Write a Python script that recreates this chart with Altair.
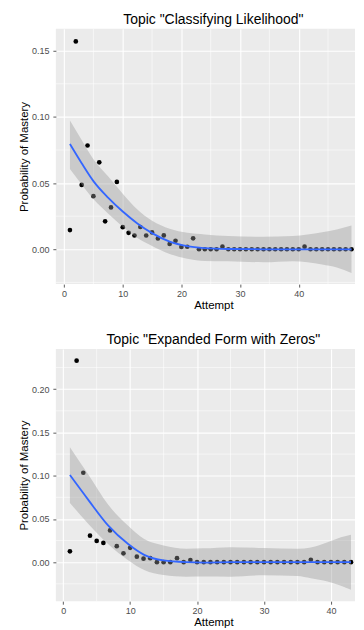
import altair as alt
import pandas as pd

# ---------------- Panel 1: Classifying Likelihood ----------------
p1_attempt = list(range(1, 50))
p1_prob = [0.0145, 0.157, 0.0486, 0.0784, 0.0401, 0.0657, 0.0211, 0.0316, 0.0509, 0.0167,
           0.0124, 0.0104, 0.0168, 0.0104, 0.0127, 0.0082, 0.0105, 0.0040, 0.0064, 0.0018,
           0.0019, 0.0083, 0.0, 0.0, 0.0, 0.0, 0.0020, 0.0, 0.0, 0.0,
           0.0, 0.0, 0.0, 0.0, 0.0, 0.0, 0.0, 0.0, 0.0, 0.0,
           0.0020, 0.0, 0.0, 0.0, 0.0, 0.0, 0.0, 0.0, 0.0]
p1_fit_x = [1, 3, 5, 7.5, 10, 12.5, 15, 18, 21, 24, 28, 34, 39, 44, 46.5, 49]
p1_fit = [0.0795, 0.065, 0.0515, 0.039, 0.0285, 0.0195, 0.0122, 0.0058, 0.0024, 0.0009,
          0.0002, 0.0, 0.0, 0.0, 0.0, 0.0]
p1_lo = [0.0607, 0.049, 0.038, 0.027, 0.017, 0.0085, 0.0025, -0.0035, -0.0072, -0.0088,
         -0.0090, -0.0098, -0.0090, -0.0115, -0.0138, -0.018]
p1_hi = [0.0972, 0.0825, 0.068, 0.0551, 0.042, 0.030, 0.0215, 0.0155, 0.0125, 0.0112,
         0.0100, 0.0095, 0.0100, 0.0128, 0.015, 0.018]
p1_x_ticks = [0, 10, 20, 30, 40]
p1_x_minor = [5, 15, 25, 35, 45]
p1_y_ticks = [0.0, 0.05, 0.10, 0.15]
p1_y_minor = [-0.025, 0.025, 0.075, 0.125]

# ---------------- Panel 2: Expanded Form with Zeros ----------------
p2_attempt = list(range(1, 44))
p2_prob = [0.0125, 0.233, 0.1034, 0.0307, 0.0246, 0.0223, 0.0367, 0.0185, 0.0102, 0.0166,
           0.0064, 0.0041, 0.0046, 0.0, 0.0, 0.0, 0.0046, 0.0, 0.0025, 0.0,
           0.0, 0.0, 0.0, 0.0, 0.0, 0.0, 0.0, 0.0, 0.0, 0.0,
           0.0, 0.0, 0.0, 0.0, 0.0, 0.0, 0.0028, 0.0, 0.0, 0.0,
           0.0, 0.0, 0.0]
p2_fit_x = [1, 3.8, 6.7, 9.7, 12.1, 15, 18.4, 21, 25, 30, 35, 37, 39.5, 41.5, 43]
p2_fit = [0.1007, 0.0715, 0.0425, 0.021, 0.0085, 0.002, 0.0, -0.0004, 0.0, 0.0,
          0.0, 0.0, 0.0, 0.0, 0.0]
p2_lo = [0.0685, 0.0439, 0.021, 0.0023, -0.009, -0.0148, -0.0167, -0.0165, -0.0167, -0.0152,
         -0.016, -0.0186, -0.0224, -0.0273, -0.0318]
p2_hi = [0.133, 0.1007, 0.0666, 0.042, 0.0268, 0.0193, 0.0155, 0.016, 0.0174, 0.0163,
         0.0155, 0.017, 0.023, 0.0288, 0.0318]
p2_x_ticks = [0, 10, 20, 30, 40]
p2_x_minor = [5, 15, 25, 35]
p2_y_ticks = [0.0, 0.05, 0.10, 0.15, 0.20]
p2_y_minor = [-0.025, 0.025, 0.075, 0.125, 0.175, 0.225]

FONT = "Liberation Sans"


def panel(title, attempts, probs, fx, fit, lo, hi, xt, xm, yt, ym, xdom, ydom, w, h):
    pts = pd.DataFrame({"Attempt": attempts, "Prob": probs})
    sm = pd.DataFrame({"Attempt": fx, "fit": fit, "lo": lo, "hi": hi})
    gx = pd.DataFrame({"v": xm})
    gy = pd.DataFrame({"v": ym})

    xs = alt.Scale(domain=xdom, nice=False, zero=False)
    ys = alt.Scale(domain=ydom, nice=False, zero=False)
    xax = alt.Axis(values=xt, format="d", title="Attempt")
    yax = alt.Axis(values=yt, format=".2f", title="Probability of Mastery")

    minor_x = alt.Chart(gx).mark_rule(color="white", strokeWidth=0.55).encode(
        x=alt.X("v:Q", scale=xs, axis=xax))
    minor_y = alt.Chart(gy).mark_rule(color="white", strokeWidth=0.55).encode(
        y=alt.Y("v:Q", scale=ys, axis=yax))
    points = alt.Chart(pts).mark_circle(size=22, color="black", opacity=1).encode(
        x=alt.X("Attempt:Q", scale=xs, axis=xax),
        y=alt.Y("Prob:Q", scale=ys, axis=yax))
    band = alt.Chart(sm).mark_area(color="#999999", opacity=0.4, interpolate="monotone").encode(
        x=alt.X("Attempt:Q", scale=xs, axis=xax),
        y=alt.Y("lo:Q", scale=ys, axis=yax),
        y2="hi:Q")
    line = alt.Chart(sm).mark_line(color="#3366FF", strokeWidth=1.8, interpolate="monotone").encode(
        x=alt.X("Attempt:Q", scale=xs, axis=xax),
        y=alt.Y("fit:Q", scale=ys, axis=yax))
    return alt.layer(minor_x, minor_y, points, band, line).properties(
        width=w, height=h,
        title=alt.TitleParams(title, fontSize=14, font=FONT, fontWeight="normal",
                              color="black", anchor="middle", baseline="bottom", offset=-12,
                              dx=8))


c1 = panel('Topic "Classifying Likelihood"', p1_attempt, p1_prob, p1_fit_x, p1_fit, p1_lo, p1_hi,
           p1_x_ticks, p1_x_minor, p1_y_ticks, p1_y_minor, [-1.4, 49.6], [-0.0263, 0.1665], 300, 256)
c2 = panel('Topic "Expanded Form with Zeros"', p2_attempt, p2_prob, p2_fit_x, p2_fit, p2_lo, p2_hi,
           p2_x_ticks, p2_x_minor, p2_y_ticks, p2_y_minor, [-1.1, 43.6], [-0.0451, 0.2466], 300, 253)

chart = alt.vconcat(c1, c2, spacing=21).properties(
    padding={"left": 10, "top": 3, "right": 0, "bottom": 0}
).configure_view(
    fill="#EBEBEB", strokeWidth=0
).configure_axis(
    domain=False,
    grid=True, gridColor="white", gridWidth=1.1,
    tickColor="#333333", tickSize=3, tickWidth=0.8,
    labelFont=FONT, labelFontSize=9, labelColor="#4D4D4D", labelPadding=2,
    titleFont=FONT, titleFontSize=11.5, titleFontWeight="normal", titleColor="black",
    titlePadding=1
).configure_axisX(titleX=158).configure_axisY(labelPadding=4, titlePadding=2)

chart.save("out.html", embed_options={"renderer": "svg", "actions": False})
